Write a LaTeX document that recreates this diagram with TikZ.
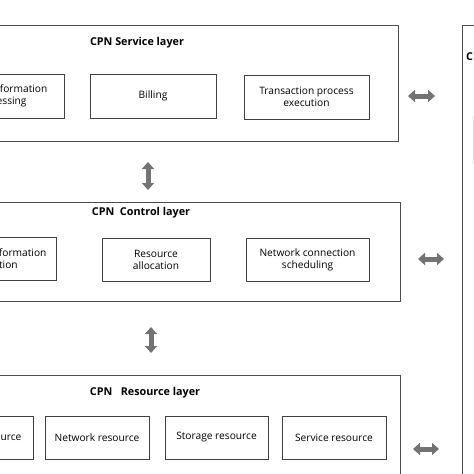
\documentclass[tikz,border=0pt]{standalone}
\usepackage{fontspec}
\setmainfont{Open Sans}
\usetikzlibrary{arrows.meta}
\begin{document}
\begin{tikzpicture}[x=1pt, y=-1pt, font=\fontsize{10.2}{12}\selectfont,
	layer/.style={draw=black!70, line width=0.8pt, minimum width=#1},
	title/.style={font=\fontsize{10.8}{12}\selectfont\bfseries},
	item/.style={draw=black!75, line width=1pt, align=center, inner sep=0pt},
	biarrow/.style={draw=black!55, line width=5pt,
		{Triangle[width=12pt,length=7pt]}-{Triangle[width=12pt,length=7pt]}}]
	\useasboundingbox (0,0) rectangle (474,474);
	\clip (0,0) rectangle (474,474);
	%service layer
	\node[layer=524pt, minimum height=116pt] (svc) at (136,83) {};
	\node[title] (svctitle) at (137,43) {CPN Service layer};
	\node[item, minimum width=126pt, minimum height=44pt] (info) at (1,96) {Service information\\processing};
	\node[item, minimum width=126pt, minimum height=44pt] (billing) at (153,96) {Billing};
	\node[item, minimum width=125pt, minimum height=44pt] (trans) at (306.5,97) {Transaction process\\execution};
	%control layer
	\node[layer=520pt, minimum height=99pt] (ctrl) at (140,251.5) {};
	\node[title] (ctrltitle) at (141,213) {CPN\ \ Control layer};
	\node[item, minimum width=122pt, minimum height=43pt] (collect) at (-5,258.5) {Resource information\\collection};
	\node[item, minimum width=108pt, minimum height=43pt] (alloc) at (156,259.5) {Resource\\allocation};
	\node[item, minimum width=123pt, minimum height=43pt] (sched) at (307.5,259.5) {Network connection\\scheduling};
	%resource layer
	\node[layer=530pt, minimum height=120pt] (res) at (135,435) {};
	\node[title] (restitle) at (145,393) {CPN\ \ \ Resource layer};
	\node[item, minimum width=120pt, minimum height=43pt] (compute) at (-27,437.5) {Computing resource};
	\node[item, minimum width=104pt, minimum height=43pt] (netres) at (97,437.5) {Network resource};
	\node[item, minimum width=103pt, minimum height=43pt] (storage) at (216.5,437.5) {Storage resource};
	\node[item, minimum width=104pt, minimum height=43pt] (servres) at (334,437.5) {Service resource};
	%management side
	\node[layer=120pt, minimum height=480pt] (mgmt) at (522,265) {};
	\node[title, anchor=west, inner sep=0pt] (mgmttitle) at (466,58) {CPN Management};
	\node[draw=black!15, minimum width=80pt, minimum height=45pt] (mgmtbox) at (513,140) {};
	%arrows
	\coordinate (v1a) at (148,162);
	\coordinate (v1b) at (148,190);
	\coordinate (v2a) at (151,327);
	\coordinate (v2b) at (151,353);
	\coordinate (h1a) at (408,96);
	\coordinate (h1b) at (435,96);
	\coordinate (h2a) at (418,259);
	\coordinate (h2b) at (444,259);
	\coordinate (h3a) at (413,449);
	\coordinate (h3b) at (439,449);
	\draw[biarrow] (v1a) -- (v1b);
	\draw[biarrow] (v2a) -- (v2b);
	\draw[biarrow] (h1a) -- (h1b);
	\draw[biarrow] (h2a) -- (h2b);
	\draw[biarrow] (h3a) -- (h3b);
\end{tikzpicture}
\end{document}
